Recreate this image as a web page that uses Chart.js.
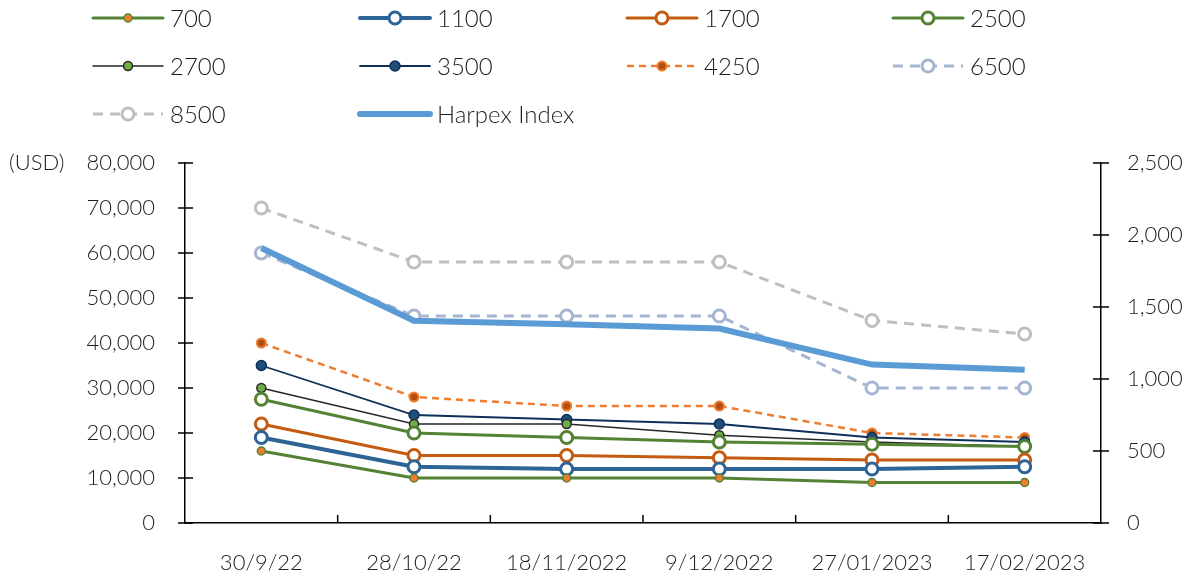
<!DOCTYPE html>
<html>
<head>
<meta charset="utf-8">
<script src="https://cdn.jsdelivr.net/npm/chart.js@4.4.0/dist/chart.umd.min.js"></script>
<style>
  html, body { margin: 0; padding: 0; background: #fff; }
</style>
</head>
<body>
<canvas id="chart" width="1192" height="577"></canvas>
<script>
// categories and values
const dates = ['30/9/22', '28/10/22', '18/11/2022', '9/12/2022', '27/01/2023', '17/02/2023'];
const s700   = [16000, 10000, 10000, 10000, 9000, 9000];
const s1100  = [19000, 12500, 12000, 12000, 12000, 12500];
const s1700  = [22000, 15000, 15000, 14500, 14000, 14000];
const s2500  = [27500, 20000, 19000, 18000, 17500, 17000];
const s2700  = [30000, 22000, 22000, 19500, 18000, 17000];
const s3500  = [35000, 24000, 23000, 22000, 19000, 18000];
const s4250  = [40000, 28000, 26000, 26000, 20000, 19000];
const s6500  = [60000, 46000, 46000, 46000, 30000, 30000];
const s8500  = [70000, 58000, 58000, 58000, 45000, 42000];
const harpex = [1910, 1405, 1380, 1350, 1100, 1065];

const FONT = 'Lato, "Noto Sans", sans-serif';
const TEXT = '#1e1e1e';

function ds(label, data, o) {
  return Object.assign({
    label, data, yAxisID: 'y', fill: false, tension: 0,
    pointStyle: 'circle', pointHoverRadius: 0
  }, o);
}

const datasets = [
  ds('700', s700,   {borderColor: '#548235', borderWidth: 3, pointRadius: 4, pointBackgroundColor: '#ED7D31', pointBorderColor: '#548235', pointBorderWidth: 1.5}),
  ds('1100', s1100, {borderColor: '#2E6396', borderWidth: 4, pointRadius: 6, pointBackgroundColor: '#fff', pointBorderColor: '#2E6396', pointBorderWidth: 3}),
  ds('1700', s1700, {borderColor: '#C55A11', borderWidth: 3, pointRadius: 6, pointBackgroundColor: '#fff', pointBorderColor: '#C55A11', pointBorderWidth: 3}),
  ds('2500', s2500, {borderColor: '#548235', borderWidth: 3, pointRadius: 6, pointBackgroundColor: '#fff', pointBorderColor: '#548235', pointBorderWidth: 3}),
  ds('2700', s2700, {borderColor: '#262626', borderWidth: 1.5, pointRadius: 4.5, pointBackgroundColor: '#70AD47', pointBorderColor: '#262626', pointBorderWidth: 1.5}),
  ds('3500', s3500, {borderColor: '#0E2F5A', borderWidth: 1.8, pointRadius: 5, pointBackgroundColor: '#1F4E79', pointBorderColor: '#0E2F5A', pointBorderWidth: 1.5}),
  ds('4250', s4250, {borderColor: '#ED7D31', borderWidth: 2.5, borderDash: [7, 5], pointRadius: 4.5, pointBackgroundColor: '#B4500E', pointBorderColor: '#ED7D31', pointBorderWidth: 2}),
  ds('6500', s6500, {borderColor: '#A6B6D0', borderWidth: 3, borderDash: [10, 7], pointRadius: 6, pointBackgroundColor: '#fff', pointBorderColor: '#A6B6D0', pointBorderWidth: 3}),
  ds('8500', s8500, {borderColor: '#BFBFBF', borderWidth: 3, borderDash: [10, 7], pointRadius: 6, pointBackgroundColor: '#fff', pointBorderColor: '#BFBFBF', pointBorderWidth: 3}),
  ds('Harpex Index', harpex, {yAxisID: 'y2', borderColor: '#5B9BD5', borderWidth: 6, pointRadius: 0, order: -1})
];

// legend in 4 columns, 3 rows, drawn on the canvas
const legendCols = [93, 360, 627, 893];
const legendRows = [18, 66, 114];
const legendPlugin = {
  id: 'gridLegend',
  afterDraw(chart) {
    const ctx = chart.ctx;
    chart.data.datasets.forEach((d, i) => {
      const x = legendCols[i % 4], y = legendRows[Math.floor(i / 4)];
      ctx.save();
      ctx.strokeStyle = d.borderColor;
      ctx.lineWidth = d.borderWidth;
      ctx.setLineDash(d.borderDash || []);
      ctx.lineCap = d.borderDash ? 'butt' : 'round';
      ctx.beginPath();
      ctx.moveTo(x, y); ctx.lineTo(x + 70, y);
      ctx.stroke();
      ctx.setLineDash([]);
      if (d.pointRadius) {
        ctx.beginPath();
        ctx.arc(x + 35, y, d.pointRadius, 0, Math.PI * 2);
        ctx.fillStyle = d.pointBackgroundColor;
        ctx.fill();
        ctx.lineWidth = d.pointBorderWidth;
        ctx.strokeStyle = d.pointBorderColor;
        ctx.stroke();
      }
      ctx.fillStyle = TEXT;
      ctx.font = '300 24px ' + FONT;
      ctx.textBaseline = 'middle';
      ctx.textAlign = 'left';
      ctx.fillText(d.label, x + 77, y + 1);
      ctx.restore();
    });
  }
};

// tick marks: crossing on the y axes, inward on the x axis
const tickPlugin = {
  id: 'tickMarks',
  afterDraw(chart) {
    const ctx = chart.ctx;
    const {x, y, y2} = chart.scales;
    ctx.save();
    ctx.strokeStyle = '#000';
    ctx.lineWidth = 1.5;
    ctx.beginPath();
    y.ticks.forEach(t => {
      const py = y.getPixelForValue(t.value);
      ctx.moveTo(x.left - 7, py); ctx.lineTo(x.left + 8, py);
    });
    y2.ticks.forEach(t => {
      const py = y2.getPixelForValue(t.value);
      ctx.moveTo(x.right - 8, py); ctx.lineTo(x.right + 8, py);
    });
    for (let i = 0; i < dates.length - 1; i++) {
      const px = (x.getPixelForTick(i) + x.getPixelForTick(i + 1)) / 2;
      ctx.moveTo(px, x.top); ctx.lineTo(px, x.top - 8);
    }
    ctx.stroke();
    ctx.fillStyle = TEXT;
    ctx.font = '300 22px ' + FONT;
    ctx.textBaseline = 'middle';
    ctx.textAlign = 'left';
    ctx.fillText('(USD)', 9, y.getPixelForValue(80000));
    ctx.restore();
  }
};

const tickFont = {family: FONT, size: 22, weight: 300};

new Chart(document.getElementById('chart'), {
  type: 'line',
  data: {labels: dates, datasets},
  options: {
    responsive: false,
    devicePixelRatio: 1,
    animation: false,
    layout: {padding: {top: 163, left: 0, right: 0, bottom: 0}},
    plugins: {legend: {display: false}, tooltip: {enabled: false}},
    scales: {
      x: {
        offset: true,
        grid: {display: false, drawTicks: false},
        border: {display: true, color: '#000', width: 1.5},
        ticks: {font: tickFont, color: TEXT, padding: 27, maxRotation: 0, autoSkip: false},
        afterFit: s => { s.height = 54; }
      },
      y: {
        position: 'left', min: 0, max: 80000,
        grid: {display: false, drawTicks: false},
        border: {display: true, color: '#000', width: 1.5},
        ticks: {stepSize: 10000, font: tickFont, color: TEXT, padding: 30,
                callback: v => v.toLocaleString('en-US')},
        afterFit: s => { s.width = 185; }
      },
      y2: {
        position: 'right', min: 0, max: 2500,
        grid: {display: false, drawTicks: false},
        border: {display: true, color: '#000', width: 1.5},
        ticks: {stepSize: 500, font: tickFont, color: TEXT, padding: 26,
                callback: v => v.toLocaleString('en-US')},
        afterFit: s => { s.width = 91; }
      }
    }
  },
  plugins: [legendPlugin, tickPlugin]
});
</script>
</body>
</html>
